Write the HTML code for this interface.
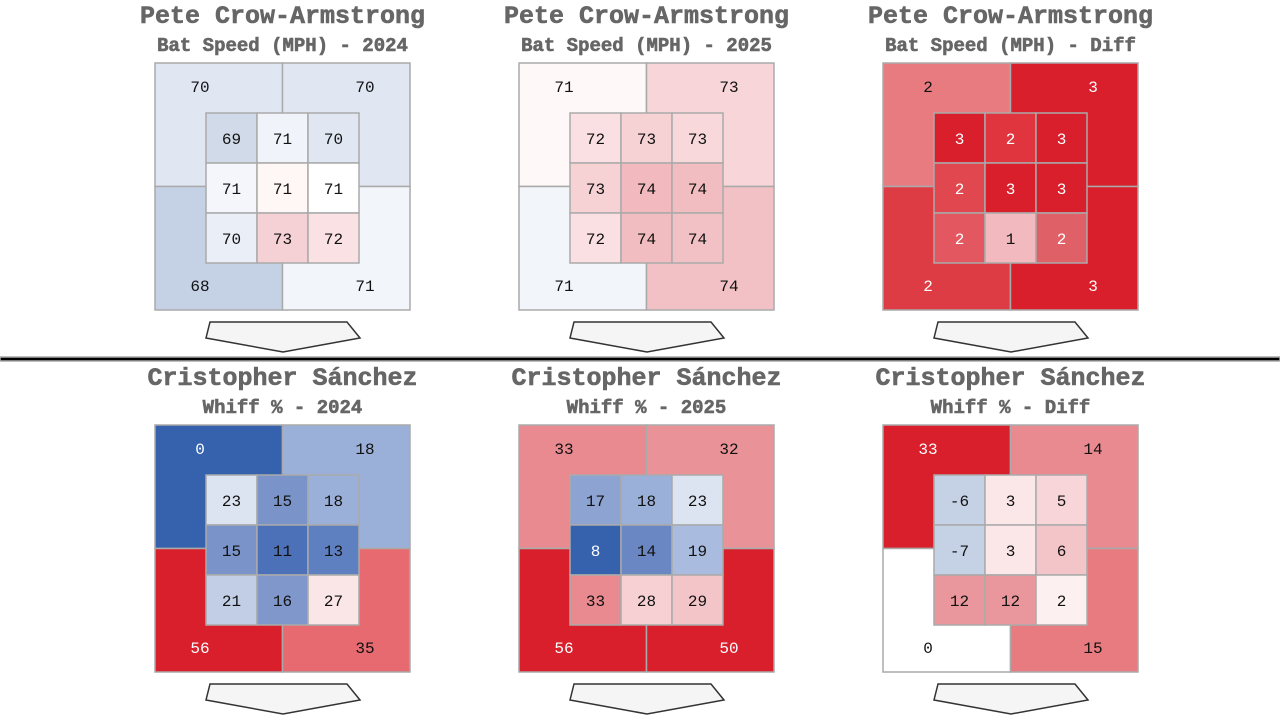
<!DOCTYPE html>
<html><head><meta charset="utf-8"><style>
html,body{margin:0;padding:0;background:#fff;width:1280px;height:720px;overflow:hidden}
svg{display:block}
.t{font-family:"Liberation Mono",monospace;font-weight:bold;fill:#666;text-anchor:middle;stroke:#666;stroke-width:0.6}
.n{font-family:"Liberation Mono","DejaVu Sans Mono",monospace;font-size:16px;text-anchor:middle;fill:#111}
.w{fill:#fff}
rect{stroke:#aaa;stroke-width:1.5}
</style></head><body>
<svg width="1280" height="720" viewBox="0 0 1280 720" xmlns="http://www.w3.org/2000/svg">
<defs>
<polygon id="hp" points="210,322 347,322 360,338 283,352 206,338" fill="#f5f5f5" stroke="#333" stroke-width="1.5"/>
</defs>

<!-- Panel 1 -->
<g>
<text class="t" x="282.5" y="23" font-size="25">Pete Crow-Armstrong</text>
<text class="t" x="282.5" y="51" font-size="19">Bat Speed (MPH) - 2024</text>
<rect x="155" y="63" width="127.5" height="123.5" fill="#e0e6f2"/>
<rect x="282.5" y="63" width="127.5" height="123.5" fill="#e0e6f2"/>
<rect x="155" y="186.5" width="127.5" height="123.5" fill="#c5d2e6"/>
<rect x="282.5" y="186.5" width="127.5" height="123.5" fill="#f2f5fa"/>
<rect x="206" y="113" width="51" height="50" fill="#d0dae9"/>
<rect x="257" y="113" width="51" height="50" fill="#f0f3f9"/>
<rect x="308" y="113" width="51" height="50" fill="#e0e6f2"/>
<rect x="206" y="163" width="51" height="50" fill="#f4f6fb"/>
<rect x="257" y="163" width="51" height="50" fill="#fff6f6"/>
<rect x="308" y="163" width="51" height="50" fill="#ffffff"/>
<rect x="206" y="213" width="51" height="50" fill="#eaeef6"/>
<rect x="257" y="213" width="51" height="50" fill="#f5d0d4"/>
<rect x="308" y="213" width="51" height="50" fill="#fae2e4"/>
<text class="n" x="200" y="92">70</text><text class="n" x="365" y="92">70</text>
<text class="n" x="200" y="291">68</text><text class="n" x="365" y="291">71</text>
<text class="n" x="231.5" y="144">69</text><text class="n" x="282.5" y="144">71</text><text class="n" x="333.5" y="144">70</text>
<text class="n" x="231.5" y="194">71</text><text class="n" x="282.5" y="194">71</text><text class="n" x="333.5" y="194">71</text>
<text class="n" x="231.5" y="244">70</text><text class="n" x="282.5" y="244">73</text><text class="n" x="333.5" y="244">72</text>
<use href="#hp"/>
</g>

<!-- Panel 2 -->
<g transform="translate(364,0)">
<text class="t" x="282.5" y="23" font-size="25">Pete Crow-Armstrong</text>
<text class="t" x="282.5" y="51" font-size="19">Bat Speed (MPH) - 2025</text>
<rect x="155" y="63" width="127.5" height="123.5" fill="#fff8f8"/>
<rect x="282.5" y="63" width="127.5" height="123.5" fill="#f7d5d8"/>
<rect x="155" y="186.5" width="127.5" height="123.5" fill="#f2f5fa"/>
<rect x="282.5" y="186.5" width="127.5" height="123.5" fill="#f2c1c5"/>
<rect x="206" y="113" width="51" height="50" fill="#fae0e2"/>
<rect x="257" y="113" width="51" height="50" fill="#f7d2d5"/>
<rect x="308" y="113" width="51" height="50" fill="#f8d8da"/>
<rect x="206" y="163" width="51" height="50" fill="#f7d2d5"/>
<rect x="257" y="163" width="51" height="50" fill="#f2b9be"/>
<rect x="308" y="163" width="51" height="50" fill="#f2bdc1"/>
<rect x="206" y="213" width="51" height="50" fill="#fae0e2"/>
<rect x="257" y="213" width="51" height="50" fill="#f2bdc1"/>
<rect x="308" y="213" width="51" height="50" fill="#f2c1c5"/>
<text class="n" x="200" y="92">71</text><text class="n" x="365" y="92">73</text>
<text class="n" x="200" y="291">71</text><text class="n" x="365" y="291">74</text>
<text class="n" x="231.5" y="144">72</text><text class="n" x="282.5" y="144">73</text><text class="n" x="333.5" y="144">73</text>
<text class="n" x="231.5" y="194">73</text><text class="n" x="282.5" y="194">74</text><text class="n" x="333.5" y="194">74</text>
<text class="n" x="231.5" y="244">72</text><text class="n" x="282.5" y="244">74</text><text class="n" x="333.5" y="244">74</text>
<use href="#hp"/>
</g>

<!-- Panel 3 -->
<g transform="translate(728,0)">
<text class="t" x="282.5" y="23" font-size="25">Pete Crow-Armstrong</text>
<text class="t" x="282.5" y="51" font-size="19">Bat Speed (MPH) - Diff</text>
<rect x="155" y="63" width="127.5" height="123.5" fill="#e87b80"/>
<rect x="282.5" y="63" width="127.5" height="123.5" fill="#d81f2b"/>
<rect x="155" y="186.5" width="127.5" height="123.5" fill="#de3c45"/>
<rect x="282.5" y="186.5" width="127.5" height="123.5" fill="#d81f2b"/>
<rect x="206" y="113" width="51" height="50" fill="#d81f2b"/>
<rect x="257" y="113" width="51" height="50" fill="#e0343e"/>
<rect x="308" y="113" width="51" height="50" fill="#d81f2b"/>
<rect x="206" y="163" width="51" height="50" fill="#e0474f"/>
<rect x="257" y="163" width="51" height="50" fill="#d81f2b"/>
<rect x="308" y="163" width="51" height="50" fill="#d81f2b"/>
<rect x="206" y="213" width="51" height="50" fill="#e35860"/>
<rect x="257" y="213" width="51" height="50" fill="#f2b9be"/>
<rect x="308" y="213" width="51" height="50" fill="#e06068"/>
<text class="n" x="200" y="92">2</text><text class="n w" x="365" y="92">3</text>
<text class="n w" x="200" y="291">2</text><text class="n w" x="365" y="291">3</text>
<text class="n w" x="231.5" y="144">3</text><text class="n w" x="282.5" y="144">2</text><text class="n w" x="333.5" y="144">3</text>
<text class="n w" x="231.5" y="194">2</text><text class="n w" x="282.5" y="194">3</text><text class="n w" x="333.5" y="194">3</text>
<text class="n w" x="231.5" y="244">2</text><text class="n" x="282.5" y="244">1</text><text class="n w" x="333.5" y="244">2</text>
<use href="#hp"/>
</g>

<rect x="0" y="357" width="1280" height="4" fill="#000" stroke="none"/>

<!-- Panel 4 -->
<g transform="translate(0,362)">
<text class="t" x="282.5" y="23" font-size="25">Cristopher Sánchez</text>
<text class="t" x="282.5" y="51" font-size="19">Whiff % - 2024</text>
<rect x="155" y="63" width="127.5" height="123.5" fill="#3561ad"/>
<rect x="282.5" y="63" width="127.5" height="123.5" fill="#9bb0d8"/>
<rect x="155" y="186.5" width="127.5" height="123.5" fill="#d81f2b"/>
<rect x="282.5" y="186.5" width="127.5" height="123.5" fill="#e66a70"/>
<rect x="206" y="113" width="51" height="50" fill="#dde4f1"/>
<rect x="257" y="113" width="51" height="50" fill="#7a93c8"/>
<rect x="308" y="113" width="51" height="50" fill="#9bb0d8"/>
<rect x="206" y="163" width="51" height="50" fill="#7a93c8"/>
<rect x="257" y="163" width="51" height="50" fill="#4d71b8"/>
<rect x="308" y="163" width="51" height="50" fill="#5f80c0"/>
<rect x="206" y="213" width="51" height="50" fill="#c1cee6"/>
<rect x="257" y="213" width="51" height="50" fill="#7f97ca"/>
<rect x="308" y="213" width="51" height="50" fill="#fae6e7"/>
<text class="n w" x="200" y="92">0</text><text class="n" x="365" y="92">18</text>
<text class="n w" x="200" y="291">56</text><text class="n" x="365" y="291">35</text>
<text class="n" x="231.5" y="144">23</text><text class="n" x="282.5" y="144">15</text><text class="n" x="333.5" y="144">18</text>
<text class="n" x="231.5" y="194">15</text><text class="n" x="282.5" y="194">11</text><text class="n" x="333.5" y="194">13</text>
<text class="n" x="231.5" y="244">21</text><text class="n" x="282.5" y="244">16</text><text class="n" x="333.5" y="244">27</text>
<use href="#hp"/>
</g>

<!-- Panel 5 -->
<g transform="translate(364,362)">
<text class="t" x="282.5" y="23" font-size="25">Cristopher Sánchez</text>
<text class="t" x="282.5" y="51" font-size="19">Whiff % - 2025</text>
<rect x="155" y="63" width="127.5" height="123.5" fill="#e88a90"/>
<rect x="282.5" y="63" width="127.5" height="123.5" fill="#e99399"/>
<rect x="155" y="186.5" width="127.5" height="123.5" fill="#d81f2b"/>
<rect x="282.5" y="186.5" width="127.5" height="123.5" fill="#d81f2b"/>
<rect x="206" y="113" width="51" height="50" fill="#8da4d2"/>
<rect x="257" y="113" width="51" height="50" fill="#9bb0d8"/>
<rect x="308" y="113" width="51" height="50" fill="#dde4f1"/>
<rect x="206" y="163" width="51" height="50" fill="#3561ad"/>
<rect x="257" y="163" width="51" height="50" fill="#6a87c3"/>
<rect x="308" y="163" width="51" height="50" fill="#a9bbde"/>
<rect x="206" y="213" width="51" height="50" fill="#e88a90"/>
<rect x="257" y="213" width="51" height="50" fill="#f6d0d3"/>
<rect x="308" y="213" width="51" height="50" fill="#f3c5c9"/>
<text class="n" x="200" y="92">33</text><text class="n" x="365" y="92">32</text>
<text class="n w" x="200" y="291">56</text><text class="n w" x="365" y="291">50</text>
<text class="n" x="231.5" y="144">17</text><text class="n" x="282.5" y="144">18</text><text class="n" x="333.5" y="144">23</text>
<text class="n w" x="231.5" y="194">8</text><text class="n" x="282.5" y="194">14</text><text class="n" x="333.5" y="194">19</text>
<text class="n" x="231.5" y="244">33</text><text class="n" x="282.5" y="244">28</text><text class="n" x="333.5" y="244">29</text>
<use href="#hp"/>
</g>

<!-- Panel 6 -->
<g transform="translate(728,362)">
<text class="t" x="282.5" y="23" font-size="25">Cristopher Sánchez</text>
<text class="t" x="282.5" y="51" font-size="19">Whiff % - Diff</text>
<rect x="155" y="63" width="127.5" height="123.5" fill="#d81f2b"/>
<rect x="282.5" y="63" width="127.5" height="123.5" fill="#e88a90"/>
<rect x="155" y="186.5" width="127.5" height="123.5" fill="#ffffff"/>
<rect x="282.5" y="186.5" width="127.5" height="123.5" fill="#e87b80"/>
<rect x="206" y="113" width="51" height="50" fill="#c5d2e6"/>
<rect x="257" y="113" width="51" height="50" fill="#fbe7e8"/>
<rect x="308" y="113" width="51" height="50" fill="#f7d5d8"/>
<rect x="206" y="163" width="51" height="50" fill="#c5d2e6"/>
<rect x="257" y="163" width="51" height="50" fill="#fbe7e8"/>
<rect x="308" y="163" width="51" height="50" fill="#f3c5c9"/>
<rect x="206" y="213" width="51" height="50" fill="#e9979c"/>
<rect x="257" y="213" width="51" height="50" fill="#e9979c"/>
<rect x="308" y="213" width="51" height="50" fill="#fdf0f0"/>
<text class="n w" x="200" y="92">33</text><text class="n" x="365" y="92">14</text>
<text class="n" x="200" y="291">0</text><text class="n" x="365" y="291">15</text>
<text class="n" x="231.5" y="144">-6</text><text class="n" x="282.5" y="144">3</text><text class="n" x="333.5" y="144">5</text>
<text class="n" x="231.5" y="194">-7</text><text class="n" x="282.5" y="194">3</text><text class="n" x="333.5" y="194">6</text>
<text class="n" x="231.5" y="244">12</text><text class="n" x="282.5" y="244">12</text><text class="n" x="333.5" y="244">2</text>
<use href="#hp"/>
</g>
</svg>
</body></html>
